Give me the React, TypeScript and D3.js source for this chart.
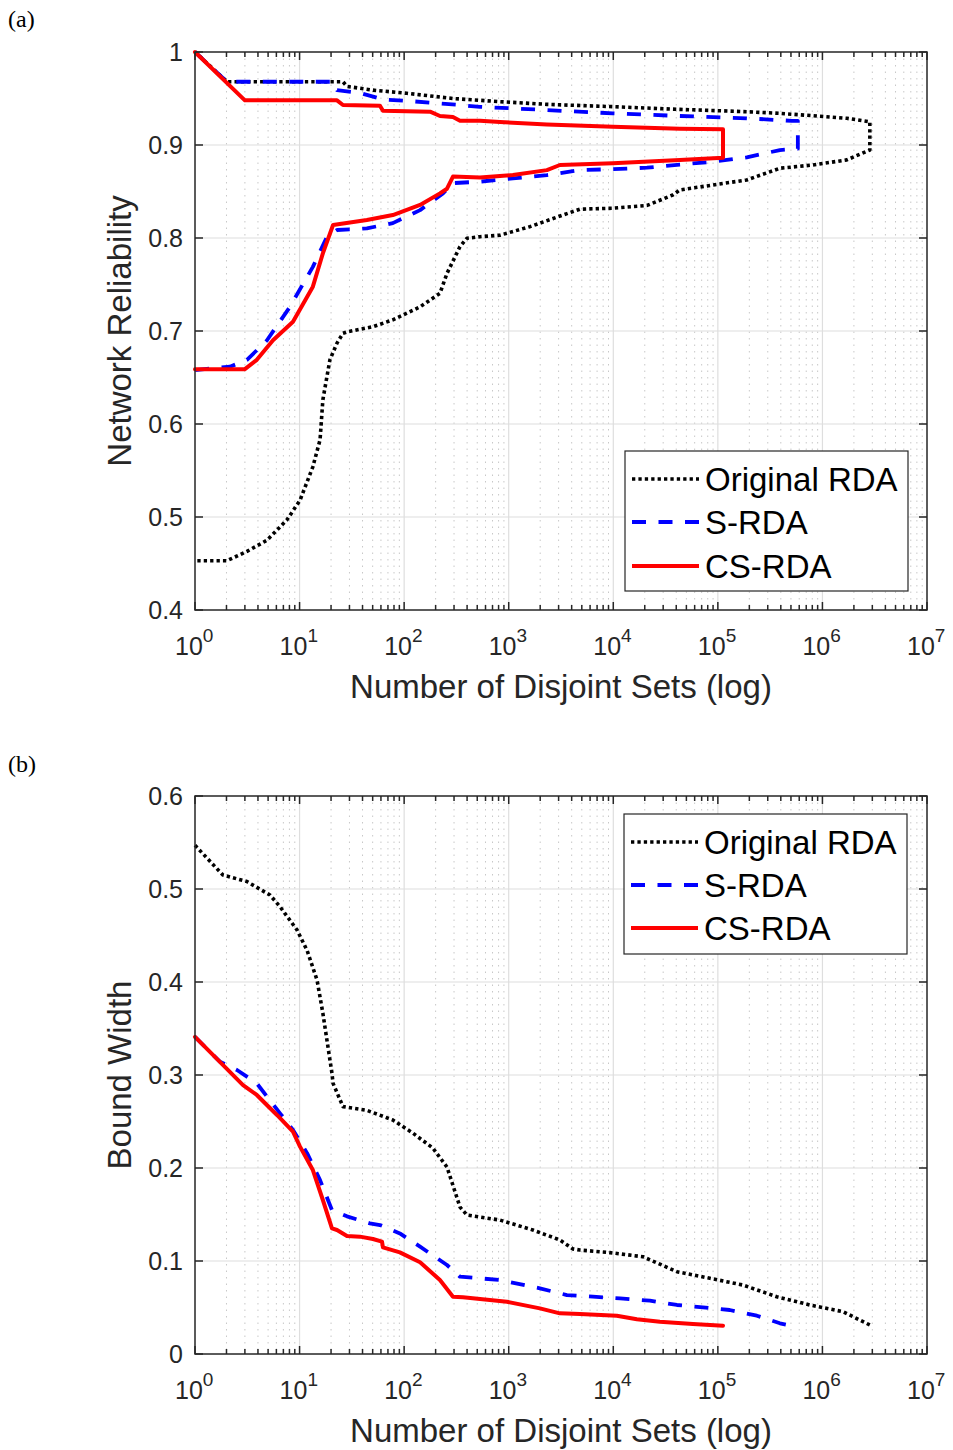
import React from 'react';
import * as d3 from 'd3';

// ---------- shared axis data ----------
const xTickExponents = [0, 1, 2, 3, 4, 5, 6, 7];
const reliabilityTicks = [0.4, 0.5, 0.6, 0.7, 0.8, 0.9, 1];
const reliabilityTickLabels = ['0.4', '0.5', '0.6', '0.7', '0.8', '0.9', '1'];
const widthTicks = [0, 0.1, 0.2, 0.3, 0.4, 0.5, 0.6];
const widthTickLabels = ['0', '0.1', '0.2', '0.3', '0.4', '0.5', '0.6'];
const seriesNames = ['Original RDA', 'S-RDA', 'CS-RDA'];

// ---------- panel (a): reliability bounds ----------
const origUpperX = [1, 2.02, 26, 28.4, 50.3, 106, 293, 824, 2318, 9910, 4.33e4, 1.89e5, 3.92e5, 8.1e5, 1.71e6, 2.84e6];
const origUpperY = [1, 0.968, 0.968, 0.963, 0.959, 0.9556, 0.95, 0.9466, 0.9437, 0.9412, 0.9383, 0.9358, 0.934, 0.9315, 0.9287, 0.925];
const origLowerX = [1, 2.02, 3.14, 4.88, 7.58, 10.1, 13.4, 15.7, 16.7, 19.5, 22.8, 26, 28.4, 50.3, 78, 142, 220, 257, 342, 398, 531, 824, 1595, 3296, 4794, 9910, 2.1e4, 3.7e4, 4.33e4, 8.96e4, 1.89e5, 3.92e5, 8.1e5, 1.71e6, 2.84e6];
const origLowerY = [0.453, 0.453, 0.463, 0.475, 0.497, 0.518, 0.554, 0.583, 0.626, 0.669, 0.687, 0.6975, 0.699, 0.7046, 0.712, 0.726, 0.7405, 0.762, 0.7907, 0.7997, 0.8014, 0.803, 0.8122, 0.8247, 0.831, 0.832, 0.835, 0.8462, 0.8516, 0.857, 0.8624, 0.875, 0.8785, 0.884, 0.8946];

const sUpperX = [1, 2.02, 20.9, 22.8, 37.8, 62.7, 121, 342, 531, 2318, 9910, 4.33e4, 1.89e5, 5.1e5, 5.82e5];
const sUpperY = [1, 0.968, 0.968, 0.959, 0.956, 0.949, 0.947, 0.943, 0.941, 0.9376, 0.934, 0.9312, 0.9287, 0.926, 0.926];
const sLowerX = [1, 2.16, 3.14, 4.88, 8.09, 13.4, 18.3, 22.8, 44, 78, 142, 235, 293, 531, 1097, 2318, 4794, 9910, 2.1e4, 4.33e4, 8.96e4, 1.89e5, 3.92e5, 5.82e5];
const sLowerY = [0.658, 0.6616, 0.669, 0.69, 0.726, 0.769, 0.8014, 0.8086, 0.8104, 0.816, 0.83, 0.848, 0.859, 0.8606, 0.864, 0.8677, 0.873, 0.874, 0.8756, 0.879, 0.882, 0.8867, 0.8946, 0.896];

const csUpperX = [1, 3, 22.8, 26, 58.7, 62.7, 177, 220, 293, 342, 531, 824, 2318, 9910, 4.33e4, 1.12e5];
const csUpperY = [1, 0.948, 0.948, 0.943, 0.9423, 0.9369, 0.9358, 0.9312, 0.93, 0.926, 0.926, 0.9247, 0.922, 0.9197, 0.9176, 0.9169];
const csLowerX = [1, 3, 3.9, 5.57, 8.65, 13.4, 16.7, 20.9, 44, 78, 142, 220, 257, 293, 531, 824, 1097, 2318, 3086, 9910, 4.33e4, 1.12e5];
const csLowerY = [0.659, 0.659, 0.669, 0.69, 0.71, 0.7477, 0.7835, 0.814, 0.8194, 0.8247, 0.8355, 0.848, 0.853, 0.866, 0.865, 0.8667, 0.8677, 0.873, 0.8785, 0.8803, 0.884, 0.8864];

// ---------- panel (b): bound width ----------
const origWidthX = [1, 1.85, 3.14, 5.21, 6.5, 9.45, 11.8, 14.7, 16.7, 18.7, 20.4, 20.9, 26, 44, 78, 121, 188, 257, 342, 398, 824, 1703, 3086, 4110, 4794, 9270, 1.92e4, 4.06e4, 8.39e4, 1.73e5, 3.66e5, 7.58e5, 1.57e6, 2.84e6];
const origWidthY = [0.547, 0.515, 0.508, 0.4935, 0.481, 0.456, 0.434, 0.402, 0.3665, 0.33, 0.302, 0.291, 0.266, 0.262, 0.2516, 0.2376, 0.2215, 0.201, 0.158, 0.1495, 0.144, 0.1333, 0.1226, 0.113, 0.1118, 0.109, 0.1046, 0.0885, 0.0814, 0.0742, 0.0616, 0.0527, 0.0455, 0.0312];

const sWidthX = [1, 1.73, 2.52, 3.9, 6.5, 8.65, 11.8, 15.7, 20.4, 28.4, 47, 58.7, 91, 142, 257, 342, 824, 1987, 3600, 6380, 1.16e4, 2.24e4, 4.06e4, 7.19e4, 1.3e5, 2.36e5, 3.92e5, 4.67e5];
const sWidthY = [0.341, 0.3143, 0.3054, 0.291, 0.2588, 0.2409, 0.216, 0.187, 0.1548, 0.148, 0.1405, 0.1387, 0.1297, 0.1154, 0.0957, 0.0831, 0.0796, 0.0706, 0.0634, 0.0616, 0.0598, 0.0573, 0.0527, 0.0502, 0.0473, 0.0412, 0.033, 0.0312];

const csWidthX = [1, 2.88, 3.9, 6.08, 8.65, 10.1, 13.4, 16.7, 20.4, 22.8, 28.4, 37.8, 50.3, 61.4, 62.7, 91, 142, 220, 293, 365, 961, 1987, 3086, 4794, 1.08e4, 1.68e4, 2.79e4, 5.77e4, 1.12e5];
const csWidthY = [0.341, 0.2892, 0.2785, 0.257, 0.239, 0.223, 0.1978, 0.1656, 0.135, 0.1333, 0.1269, 0.1262, 0.1237, 0.1208, 0.1147, 0.1093, 0.0986, 0.0796, 0.0616, 0.061, 0.0562, 0.0491, 0.0437, 0.043, 0.0412, 0.0373, 0.0348, 0.0323, 0.0305];

// ---------- styles ----------
const FONT = '"Liberation Sans", Arial, Helvetica, sans-serif';
const AXIS_COLOR = '#262626';
const seriesStyles = [
  { stroke: '#000000', width: 3.6, dash: '3.3,3.1', cap: 'butt' },
  { stroke: '#0000ff', width: 3.8, dash: '14,12.5', cap: 'butt' },
  { stroke: '#ff0000', width: 4, dash: undefined, cap: 'round' },
];

type Pt = [number, number];
const zip = (xs: number[], ys: number[]): Pt[] => xs.map((x, i) => [x, ys[i]] as Pt);
const loop = (ux: number[], uy: number[], lx: number[], ly: number[]): Pt[] =>
  zip(ux, uy).concat(zip(lx, ly).reverse());

interface PanelProps {
  top: number;
  bottom: number;
  left: number;
  right: number;
  yDomain: [number, number];
  yTicks: number[];
  yTickLabels: string[];
  yLabel: string;
  panelLabel: string;
  panelLabelY: number;
  series: Pt[][];
  legendBox: { x: number; y: number; w: number; h: number; rows: number[] };
}

function Panel(p: PanelProps) {
  const x = d3.scaleLog().domain([1, 1e7]).range([p.left, p.right]);
  const y = d3.scaleLinear().domain(p.yDomain).range([p.bottom, p.top]);
  const line = d3
    .line<Pt>()
    .x((d) => x(d[0]))
    .y((d) => y(d[1]));

  const minor: number[] = [];
  for (let e = 0; e < 7; e++) {
    for (let k = 2; k <= 9; k++) minor.push(k * Math.pow(10, e));
  }
  const majors = xTickExponents.map((e) => Math.pow(10, e));
  const majorLen = 8;
  const minorLen = 5;

  return (
    <g>
      <text x={8} y={p.panelLabelY} fontFamily='"Liberation Serif", "Times New Roman", serif' fontSize={24} fill="#000">
        {p.panelLabel}
      </text>
      {/* minor grid */}
      {minor.map((v, i) => (
        <line
          key={'mg' + i}
          x1={x(v)}
          x2={x(v)}
          y1={p.top}
          y2={p.bottom}
          stroke="#c8c8c8"
          strokeWidth={1}
          strokeDasharray="1.5,5"
        />
      ))}
      {/* major grid */}
      {majors.slice(1, -1).map((v, i) => (
        <line key={'Mg' + i} x1={x(v)} x2={x(v)} y1={p.top} y2={p.bottom} stroke="#dedede" strokeWidth={1.2} />
      ))}
      {p.yTicks.slice(1, -1).map((v, i) => (
        <line key={'yg' + i} x1={p.left} x2={p.right} y1={y(v)} y2={y(v)} stroke="#dedede" strokeWidth={1.2} />
      ))}
      {/* series */}
      {p.series.map((pts, i) => {
        const s = seriesStyles[i];
        return (
          <path
            key={'s' + i}
            d={line(pts) || ''}
            fill="none"
            stroke={s.stroke}
            strokeWidth={s.width}
            strokeDasharray={s.dash}
            strokeLinecap={s.cap as any}
            strokeLinejoin="round"
          />
        );
      })}
      {/* axes box */}
      <rect
        x={p.left}
        y={p.top}
        width={p.right - p.left}
        height={p.bottom - p.top}
        fill="none"
        stroke={AXIS_COLOR}
        strokeWidth={1.5}
      />
      {/* x ticks bottom & top */}
      {majors.map((v, i) => (
        <g key={'xt' + i}>
          <line x1={x(v)} x2={x(v)} y1={p.bottom} y2={p.bottom - majorLen} stroke={AXIS_COLOR} strokeWidth={1.5} />
          <line x1={x(v)} x2={x(v)} y1={p.top} y2={p.top + majorLen} stroke={AXIS_COLOR} strokeWidth={1.5} />
        </g>
      ))}
      {minor.map((v, i) => (
        <g key={'xm' + i}>
          <line x1={x(v)} x2={x(v)} y1={p.bottom} y2={p.bottom - minorLen} stroke={AXIS_COLOR} strokeWidth={1.5} />
          <line x1={x(v)} x2={x(v)} y1={p.top} y2={p.top + minorLen} stroke={AXIS_COLOR} strokeWidth={1.5} />
        </g>
      ))}
      {/* y ticks left & right */}
      {p.yTicks.map((v, i) => (
        <g key={'yt' + i}>
          <line x1={p.left} x2={p.left + majorLen} y1={y(v)} y2={y(v)} stroke={AXIS_COLOR} strokeWidth={1.5} />
          <line x1={p.right} x2={p.right - majorLen} y1={y(v)} y2={y(v)} stroke={AXIS_COLOR} strokeWidth={1.5} />
          <text
            x={p.left - 12}
            y={y(v) + 9}
            textAnchor="end"
            fontFamily={FONT}
            fontSize={25}
            fill="#262626"
          >
            {p.yTickLabels[i]}
          </text>
        </g>
      ))}
      {/* x tick labels 10^e */}
      {xTickExponents.map((e, i) => (
        <text
          key={'xl' + i}
          x={x(Math.pow(10, e)) - 20}
          y={p.bottom + 45}
          fontFamily={FONT}
          fontSize={25}
          fill="#262626"
        >
          10
          <tspan dy={-13} fontSize={19}>
            {String(e)}
          </tspan>
        </text>
      ))}
      {/* axis labels */}
      <text
        x={(p.left + p.right) / 2}
        y={p.bottom + 88}
        textAnchor="middle"
        fontFamily={FONT}
        fontSize={33}
        fill="#262626"
      >
        Number of Disjoint Sets (log)
      </text>
      <text
        transform={`translate(131,${(p.top + p.bottom) / 2}) rotate(-90)`}
        textAnchor="middle"
        fontFamily={FONT}
        fontSize={33}
        fill="#262626"
      >
        {p.yLabel}
      </text>
      {/* legend */}
      <rect
        x={p.legendBox.x}
        y={p.legendBox.y}
        width={p.legendBox.w}
        height={p.legendBox.h}
        fill="#ffffff"
        stroke="#262626"
        strokeWidth={1.2}
      />
      {seriesNames.map((name, i) => {
        const s = seriesStyles[i];
        const ry = p.legendBox.rows[i];
        return (
          <g key={'lg' + i}>
            <line
              x1={p.legendBox.x + 7}
              x2={p.legendBox.x + 74}
              y1={ry}
              y2={ry}
              stroke={s.stroke}
              strokeWidth={s.width}
              strokeDasharray={s.dash}
            />
            <text x={p.legendBox.x + 80} y={ry + 12} fontFamily={FONT} fontSize={33} fill="#000">
              {name}
            </text>
          </g>
        );
      })}
    </g>
  );
}

export default function App() {
  const seriesA: Pt[][] = [
    loop(origUpperX, origUpperY, origLowerX, origLowerY),
    loop(sUpperX, sUpperY, sLowerX, sLowerY),
    loop(csUpperX, csUpperY, csLowerX, csLowerY),
  ];
  const seriesB: Pt[][] = [zip(origWidthX, origWidthY), zip(sWidthX, sWidthY), zip(csWidthX, csWidthY)];

  return (
    <svg
      width={953}
      height={1450}
      style={{ position: 'absolute', left: 0, top: 0, display: 'block', background: '#fff' }}
    >
      <rect x={0} y={0} width={953} height={1450} fill="#ffffff" />
      <Panel
        top={52}
        bottom={610}
        left={195}
        right={927}
        yDomain={[0.4, 1]}
        yTicks={reliabilityTicks}
        yTickLabels={reliabilityTickLabels}
        yLabel="Network Reliability"
        panelLabel="(a)"
        panelLabelY={27}
        series={seriesA}
        legendBox={{ x: 625, y: 451, w: 283, h: 140, rows: [479, 522, 566] }}
      />
      <Panel
        top={796}
        bottom={1354}
        left={195}
        right={927}
        yDomain={[0, 0.6]}
        yTicks={widthTicks}
        yTickLabels={widthTickLabels}
        yLabel="Bound Width"
        panelLabel="(b)"
        panelLabelY={772}
        series={seriesB}
        legendBox={{ x: 624, y: 814, w: 283, h: 140, rows: [842, 885, 928] }}
      />
    </svg>
  );
}
